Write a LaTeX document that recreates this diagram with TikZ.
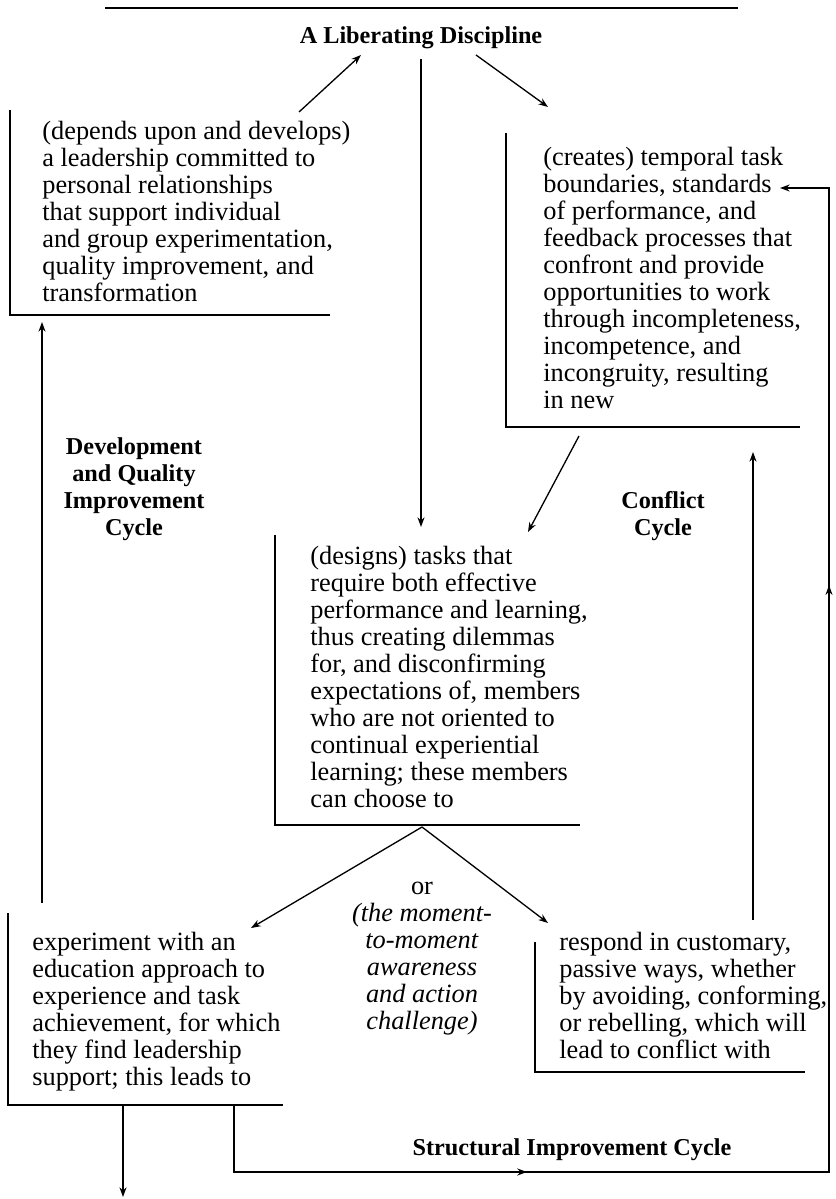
\documentclass[tikz,border=0pt]{standalone}
\usepackage{fontspec}
\setmainfont{Liberation Serif}
\usetikzlibrary{arrows.meta,decorations.markings}

\begin{document}
\begin{tikzpicture}[x=0.02cm, y=-0.02cm,
  >={Stealth[length=5.5pt,width=4pt]},
  txt/.style={inner sep=0pt, align=left, anchor=north west, font=\fontsize{15}{15.4}\selectfont},
  lbl/.style={inner sep=0pt, align=center, anchor=north, font=\fontsize{13.8}{15.4}\selectfont\bfseries},
  bracket/.style={line width=0.9pt},
  link/.style={->, line width=0.75pt}]
  \useasboundingbox (0,0) rectangle (835,1199);
  % Header
  \draw[bracket] (105,8) -- (738,8);
  \node (title) [lbl, anchor=base] at (421,44) {A Liberating Discipline};
  % Nodes
  \node (lead) [txt] at (42,120) {\strut(depends upon and develops)\\a leadership committed to\\personal relationships\\that support individual\\and group experimentation,\\quality improvement, and\\transformation};
  \node (bound) [txt] at (543,146) {\strut(creates) temporal task\\boundaries, standards\\of performance, and\\feedback processes that\\confront and provide\\opportunities to work\\through incompleteness,\\incompetence, and\\incongruity, resulting\\in new};
  \node (tasks) [txt] at (310,545) {\strut(designs) tasks that\\require both effective\\performance and learning,\\thus creating dilemmas\\for, and disconfirming\\expectations of, members\\who are not oriented to\\continual experiential\\learning; these members\\can choose to};
  \node (exper) [txt] at (32,931) {\strut experiment with an\\education approach to\\experience and task\\achievement, for which\\they find leadership\\support; this leads to};
  \node (resp) [txt] at (559,931) {\strut respond in customary,\\passive ways, whether\\by avoiding, conforming,\\or rebelling, which will\\lead to conflict with};
  \node (or) [txt, anchor=north, align=center] at (422,875) {\strut or\\\textit{(the moment-}\\\textit{to-moment}\\\textit{awareness}\\\textit{and action}\\\textit{challenge)}};
  % Cycle labels
  \node (devcyc) [lbl] at (134,435) {\strut Development\\and Quality\\Improvement\\Cycle};
  \node (concyc) [lbl] at (663,489) {\strut Conflict\\Cycle};
  \node (strcyc) [lbl, anchor=base] at (572,1155) {Structural Improvement Cycle};
  % Brackets
  \draw[bracket] (10,110) -- (10,315) -- (330,315);
  \draw[bracket] (506,133) -- (506,427) -- (800,427);
  \draw[bracket] (275,535) -- (275,825) -- (580,825);
  \draw[bracket] (8,913) -- (8,1105) -- (283,1105);
  \draw[bracket] (535,942) -- (535,1072) -- (805,1072);
  % Arrow ends
  \coordinate (lead-up) at (299,112);
  \coordinate (title-l) at (361,55);
  \coordinate (title-c) at (421,59);
  \coordinate (title-r) at (476,55);
  \coordinate (bound-in) at (548,107);
  \coordinate (bound-out) at (579,436);
  \coordinate (tasks-in) at (421,527);
  \coordinate (tasks-in2) at (528,532);
  \coordinate (tasks-out) at (422,827);
  \coordinate (exper-in) at (251,928);
  \coordinate (resp-in) at (548,923);
  \coordinate (exper-up) at (42,903);
  \coordinate (lead-in) at (42,322);
  \coordinate (resp-up) at (753,920);
  \coordinate (bound-in2) at (753,452);
  \coordinate (exper-foot) at (123,1105);
  \coordinate (exper-down) at (123,1197);
  \coordinate (exper-loop) at (234,1105);
  \coordinate (bound-std) at (780,188);
  % Arrows
  \draw[link] (lead-up) -- (title-l);
  \draw[link] (title-c) -- (tasks-in);
  \draw[link] (title-r) -- (bound-in);
  \draw[link] (bound-out) -- (tasks-in2);
  \draw[link] (tasks-out) -- (exper-in);
  \draw[link] (tasks-out) -- (resp-in);
  \draw[link] (exper-up) -- (lead-in);
  \draw[link] (resp-up) -- (bound-in2);
  \draw[link] (exper-foot) -- (exper-down);
  \draw[link, postaction={decorate}, decoration={markings,
      mark=at position 7.2cm with {\arrow{>}},
      mark=at position 24.98cm with {\arrow{>}}}]
    (exper-loop) |- (829,1172) |- (bound-std);
\end{tikzpicture}
\end{document}
